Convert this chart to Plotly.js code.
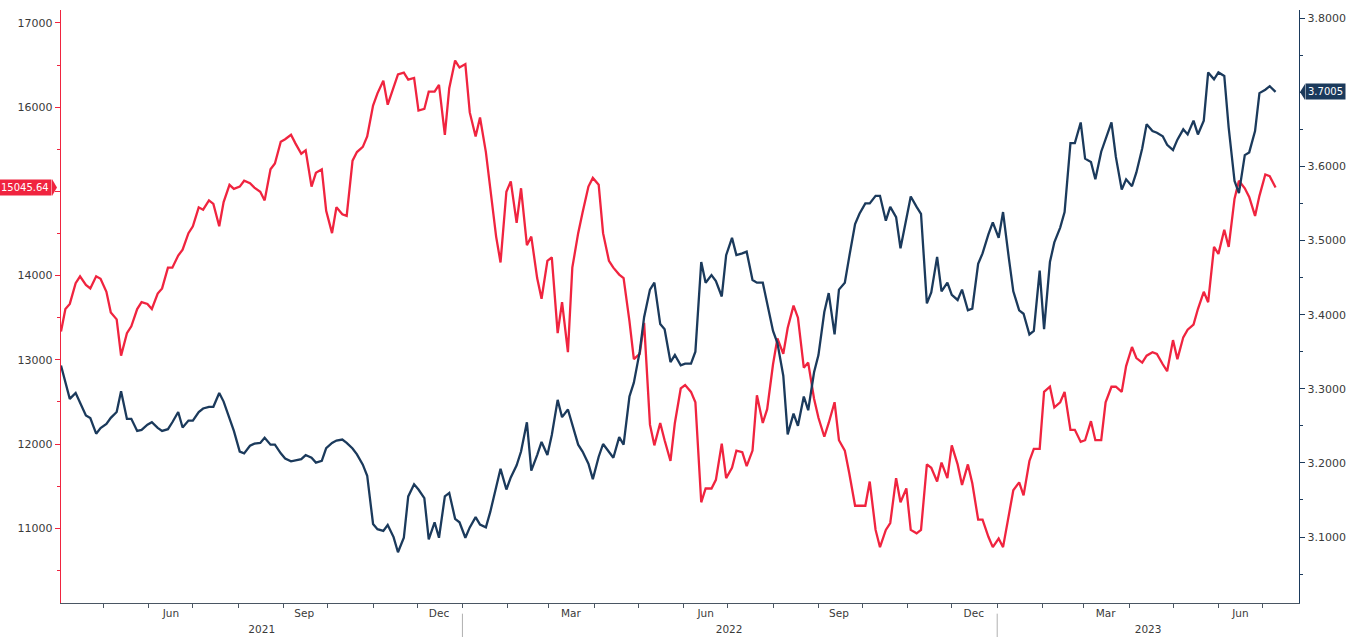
<!DOCTYPE html>
<html>
<head>
<meta charset="utf-8">
<script src="https://cdn.plot.ly/plotly-3.0.1.min.js"></script>
<style>html,body{margin:0;padding:0;background:#fff;}#chart{width:1363px;height:637px;}</style>
</head>
<body>
<div id="chart"></div>
<script>
const dates = [
'2021-04-02','2021-04-05','2021-04-08','2021-04-12','2021-04-15','2021-04-19','2021-04-22','2021-04-26','2021-04-29',
'2021-05-03','2021-05-06','2021-05-10','2021-05-13','2021-05-17','2021-05-20','2021-05-24','2021-05-27','2021-05-31',
'2021-06-03','2021-06-07','2021-06-10','2021-06-14','2021-06-17','2021-06-21','2021-06-24','2021-06-28',
'2021-07-01','2021-07-05','2021-07-08','2021-07-12','2021-07-15','2021-07-19','2021-07-22','2021-07-26','2021-07-29',
'2021-08-02','2021-08-05','2021-08-09','2021-08-12','2021-08-16','2021-08-19','2021-08-23','2021-08-26','2021-08-30',
'2021-09-02','2021-09-06','2021-09-09','2021-09-13','2021-09-16','2021-09-20','2021-09-23','2021-09-27','2021-09-30',
'2021-10-04','2021-10-07','2021-10-11','2021-10-14','2021-10-18','2021-10-21','2021-10-25','2021-10-28','2021-11-01',
'2021-11-04','2021-11-08','2021-11-11','2021-11-15','2021-11-18','2021-11-22','2021-11-25','2021-11-29',
'2021-12-02','2021-12-06','2021-12-09','2021-12-13','2021-12-16','2021-12-20','2021-12-23','2021-12-27','2021-12-30',
'2022-01-03','2022-01-06','2022-01-10','2022-01-13','2022-01-17','2022-01-20','2022-01-24','2022-01-27','2022-01-31',
'2022-02-03','2022-02-07','2022-02-10','2022-02-14','2022-02-17','2022-02-21','2022-02-24','2022-02-28',
'2022-03-03','2022-03-07','2022-03-10','2022-03-14','2022-03-17','2022-03-21','2022-03-24','2022-03-28','2022-03-31',
'2022-04-04','2022-04-07','2022-04-11','2022-04-14','2022-04-18','2022-04-21','2022-04-25','2022-04-28',
'2022-05-02','2022-05-05','2022-05-09','2022-05-12','2022-05-16','2022-05-19','2022-05-23','2022-05-26','2022-05-30',
'2022-06-02','2022-06-06','2022-06-09','2022-06-13','2022-06-16','2022-06-20','2022-06-23','2022-06-27','2022-06-30',
'2022-07-04','2022-07-07','2022-07-11','2022-07-14','2022-07-18','2022-07-21','2022-07-25','2022-07-28',
'2022-08-01','2022-08-04','2022-08-08','2022-08-11','2022-08-15','2022-08-18','2022-08-22','2022-08-25','2022-08-29',
'2022-09-01','2022-09-05','2022-09-08','2022-09-12','2022-09-15','2022-09-19','2022-09-22','2022-09-26','2022-09-29',
'2022-10-03','2022-10-06','2022-10-10','2022-10-13','2022-10-17','2022-10-20','2022-10-24','2022-10-27','2022-10-31',
'2022-11-03','2022-11-07','2022-11-10','2022-11-14','2022-11-17','2022-11-21','2022-11-24','2022-11-28',
'2022-12-01','2022-12-05','2022-12-08','2022-12-12','2022-12-15','2022-12-19','2022-12-22','2022-12-26','2022-12-29',
'2023-01-02','2023-01-05','2023-01-09','2023-01-12','2023-01-16','2023-01-19','2023-01-23','2023-01-26','2023-01-30',
'2023-02-02','2023-02-06','2023-02-09','2023-02-13','2023-02-16','2023-02-20','2023-02-23','2023-02-27',
'2023-03-02','2023-03-06','2023-03-09','2023-03-13','2023-03-16','2023-03-20','2023-03-23','2023-03-27','2023-03-30',
'2023-04-03','2023-04-06','2023-04-10','2023-04-13','2023-04-17','2023-04-20','2023-04-24','2023-04-27',
'2023-05-01','2023-05-04','2023-05-08','2023-05-11','2023-05-15','2023-05-18','2023-05-22','2023-05-25','2023-05-29',
'2023-06-01','2023-06-05','2023-06-08','2023-06-12','2023-06-15','2023-06-19','2023-06-22','2023-06-26','2023-06-29',
'2023-07-03','2023-07-06','2023-07-10'
];

const nasdaq100 = [
13336,13603,13664,13910,13992,13889,13848,13992,13963,13808,13562,13480,13049,13316,13398,13603,13685,13664,
13603,13787,13848,14094,14094,14238,14307,14504,14586,14811,14783,14893,14852,14586,14873,15078,15029,
15057,15127,15098,15045,14996,14893,15262,15332,15590,15619,15672,15570,15447,15488,15057,15221,15262,14770,
14504,14811,14729,14709,15365,15467,15529,15652,16020,
16164,16315,16029,16233,16389,16410,16328,16348,15959,15979,16184,16184,16266,15672,16225,16553,16471,
16512,15938,15652,15877,15467,15016,14463,14156,14996,15119,14627,15037,14361,14463,13971,13725,
14176,14217,13316,13684,13090,14094,14504,14750,15057,15160,15078,14504,14176,14094,14012,13971,13459,
13008,13070,13439,12230,11984,12250,12045,11799,12250,12660,
12701,12619,12496,11308,11472,11472,11574,12004,11595,11717,11922,11902,11738,11922,12578,12250,12414,
12947,13254,13070,13377,13643,13500,12906,12967,12537,12312,12086,12250,12496,12045,11922,11656,11267,11267,
11267,11554,10980,10775,10980,11062,11595,11308,11472,10980,10939,10980,11758,11717,11554,11779,11595,
11984,11758,11513,11758,11533,11103,11103,10898,10775,
10877,10775,11144,11451,11545,11390,11799,11943,11943,12619,12680,12435,12496,12619,12168,12168,12025,
12045,12271,12045,12045,12496,12680,12680,12619,12926,13152,13021,12967,13049,13090,13070,12947,12865,
13234,13008,13267,13357,13418,13603,13808,13684,14340,14258,14545,14340,14914,15127,15037,14934,14709,14947,
15201,15180,15045.64
];

const usdIls = [
3.3315,3.3106,3.2864,3.2943,3.2813,3.2641,3.2604,3.2394,3.2469,3.2525,3.2608,3.2687,3.2966,3.2594,3.2594,
3.2431,3.2445,3.2515,3.2548,3.2473,3.2431,3.2455,3.2548,3.2687,3.2478,3.2571,3.2571,3.2687,3.2734,3.2757,
3.2757,3.2943,3.2827,3.2594,3.2431,3.2153,3.2129,3.2232,3.2259,3.2269,3.2339,3.2246,3.2246,3.2129,3.2060,
3.2022,3.2036,3.2050,3.2106,3.2069,3.2004,3.2027,3.2199,3.2269,3.2301,3.2315,3.2269,3.2194,3.2115,3.1976,
3.1827,3.1176,
3.1106,3.1083,3.1162,3.0999,3.0795,3.0990,3.1548,3.1711,3.1641,3.1525,3.0967,3.1199,3.0990,3.1548,3.1595,
3.1246,3.1199,3.0990,3.1130,3.1269,3.1167,3.1130,3.1339,3.1688,3.1920,3.1641,3.1804,3.1967,3.2153,3.2548,
3.1897,3.2106,3.2283,3.2106,3.2376,3.2850,3.2617,3.2720,3.2525,3.2246,3.2153,3.1990,3.1781,3.2083,3.2255,
3.2153,3.2069,3.2348,3.2246,3.2896,3.3083,3.3501,3.3966,3.4338,3.4431,3.3873,3.3803,3.3361,3.3455,3.3315,
3.3338,3.3338,3.3501,3.4710,3.4431,3.4533,3.4454,3.4245,3.4803,3.5036,3.4803,3.4826,3.4850,3.4468,3.4431,
3.4431,3.4152,3.3780,3.3617,3.3176,3.2385,3.2664,3.2501,3.2896,3.2711,3.3222,3.3454,3.4036,3.4291,3.3733,
3.4338,3.4431,3.4780,3.5222,3.5361,3.5501,3.5501,3.5603,3.5603,3.5268,3.5454,3.5315,3.4896,3.5315,3.5594,
3.5454,3.5361,3.4152,3.4301,3.4780,3.4315,3.4431,3.4268,3.4198,3.4338,3.4059,3.4082,3.4687,3.4826,3.5082,
3.5245,
3.5035,3.5384,3.4756,3.4315,3.4059,3.4012,3.3733,3.3780,3.4594,3.3803,3.4710,3.4975,3.5175,3.5384,3.6314,
3.6314,3.6593,3.6105,3.6059,3.5826,3.6198,3.6361,3.6593,3.6128,3.5687,3.5826,3.5733,3.5919,3.6244,3.6570,
3.6477,3.6454,3.6407,3.6291,3.6221,3.6361,3.6500,3.6431,3.6617,3.6431,3.6617,3.7268,3.7175,3.7268,3.7221,
3.6524,3.5803,3.5640,3.6152,3.6189,3.6477,3.6989,3.7035,3.7082,3.7005
];

const leftTickVals = [11000, 12000, 13000, 14000, 15000, 16000, 17000];
const leftTickText = ['11000', '12000', '13000', '14000', '', '16000', '17000'];
const rightTickVals = [3.1, 3.2, 3.3, 3.4, 3.5, 3.6, 3.7, 3.8];
const rightTickText = ['3.1000', '3.2000', '3.3000', '3.4000', '3.5000', '3.6000', '', '3.8000'];
const monthLabels = ['Jun','Sep','Dec','Mar','Jun','Sep','Dec','Mar','Jun'];
const monthLabelDates = ['2021-06-16','2021-09-15','2021-12-16','2022-03-16','2022-06-16','2022-09-15','2022-12-16','2023-03-16','2023-06-16'];
const yearLabels = ['2021','2022','2023'];
const yearLabelDates = ['2021-08-17','2022-07-02','2023-04-14'];
const yearBreaks = ['2022-01-01','2023-01-01'];
const xRange = ['2021-04-02','2023-07-26'];

const RED = '#f0243f';
const BLUE = '#1b3a5c';
const TXT = '#3a3a3a';
const FONT = 'DejaVu Sans, Verdana, sans-serif';

const lastNdx = nasdaq100[nasdaq100.length - 1];
const lastIls = usdIls[usdIls.length - 1];

const traces = [
  {x: dates, y: nasdaq100, type: 'scatter', mode: 'lines', line: {color: RED, width: 2.3}, xaxis: 'x', yaxis: 'y', hoverinfo: 'x+y', showlegend: false},
  {x: dates, y: usdIls, type: 'scatter', mode: 'lines', line: {color: BLUE, width: 2.3}, xaxis: 'x', yaxis: 'y2', hoverinfo: 'x+y', showlegend: false},
  {x: [dates[0]], y: [nasdaq100[0]], type: 'scatter', mode: 'markers', marker: {opacity: 0}, xaxis: 'x2', yaxis: 'y', hoverinfo: 'skip', showlegend: false},
  {x: [dates[0]], y: [nasdaq100[0]], type: 'scatter', mode: 'markers', marker: {opacity: 0}, xaxis: 'x3', yaxis: 'y', hoverinfo: 'skip', showlegend: false}
];

const pxX = 1 / 1238;
const yHalfL = 8.5 * (17154 - 10112) / 593;
const yHalfR = 8 * (3.811 - 3.011) / 593;

const shapes = yearBreaks.map(d => ({
  type: 'line', xref: 'x', yref: 'paper', x0: d, x1: d, y0: -0.018, y1: -0.06,
  line: {color: '#b0b0b0', width: 1}
}));
shapes.push({
  type: 'path', xref: 'paper', yref: 'y', layer: 'above',
  path: `M ${-9*pxX},${lastNdx + yHalfL} L ${-4*pxX},${lastNdx} L ${-9*pxX},${lastNdx - yHalfL} Z`,
  fillcolor: RED, line: {width: 0}
});
shapes.push({
  type: 'path', xref: 'paper', yref: 'y2', layer: 'above',
  path: `M ${1 + 6*pxX},${lastIls + yHalfR} L ${1 + 1*pxX},${lastIls} L ${1 + 6*pxX},${lastIls - yHalfR} Z`,
  fillcolor: BLUE, line: {width: 0}
});

const layout = {
  width: 1363, height: 637,
  margin: {l: 61, r: 64, t: 10, b: 34, pad: 0},
  paper_bgcolor: '#ffffff', plot_bgcolor: '#ffffff',
  font: {family: FONT, size: 11, color: TXT},
  showlegend: false,
  xaxis: {
    type: 'date', range: xRange, dtick: 'M1', tick0: '2021-01-01',
    ticks: 'outside', ticklen: 4, tickcolor: '#4a5663', tickwidth: 1,
    showticklabels: false, showline: true, linecolor: '#4a5663', linewidth: 1,
    showgrid: false, zeroline: false, fixedrange: true
  },
  xaxis2: {
    type: 'date', overlaying: 'x', anchor: 'y', side: 'bottom', range: xRange,
    tickmode: 'array', tickvals: monthLabelDates, ticktext: monthLabels,
    ticks: '', showline: false, showgrid: false, zeroline: false,
    tickfont: {family: FONT, size: 10.5, color: TXT}, ticklabelstandoff: 2
  },
  xaxis3: {
    type: 'date', overlaying: 'x', anchor: 'y', side: 'bottom', range: xRange,
    tickmode: 'array', tickvals: yearLabelDates, ticktext: yearLabels,
    ticks: '', showline: false, showgrid: false, zeroline: false,
    tickfont: {family: FONT, size: 10.5, color: TXT}, ticklabelstandoff: 18
  },
  yaxis: {
    range: [10112, 17154], tickmode: 'array', tickvals: leftTickVals, ticktext: leftTickText,
    ticks: 'outside', ticklen: 5, tickcolor: RED, tickwidth: 1,
    minor: {tickmode: 'linear', dtick: 500, tick0: 0, ticks: 'outside', ticklen: 3, tickcolor: RED},
    showline: true, linecolor: RED, linewidth: 1.2,
    showgrid: false, zeroline: false,
    tickfont: {family: FONT, size: 11, color: TXT}
  },
  yaxis2: {
    overlaying: 'y', side: 'right', anchor: 'x',
    range: [3.011, 3.811], tickmode: 'array', tickvals: rightTickVals, ticktext: rightTickText,
    ticks: 'outside', ticklen: 5, tickcolor: BLUE, tickwidth: 1,
    minor: {tickmode: 'linear', dtick: 0.05, tick0: 3, ticks: 'outside', ticklen: 3, tickcolor: BLUE},
    showline: true, linecolor: BLUE, linewidth: 1.2,
    showgrid: false, zeroline: false,
    tickfont: {family: FONT, size: 11, color: TXT}
  },
  shapes: shapes,
  annotations: [
    {xref: 'paper', yref: 'y', x: 0, y: lastNdx, xanchor: 'right', yanchor: 'middle', xshift: -9,
     text: lastNdx.toFixed(2), showarrow: false, bgcolor: RED, borderpad: 2,
     font: {family: FONT, size: 10, color: '#ffffff'}},
    {xref: 'paper', yref: 'y2', x: 1, y: lastIls, xanchor: 'left', yanchor: 'middle', xshift: 6,
     text: lastIls.toFixed(4), showarrow: false, bgcolor: BLUE, borderpad: 2,
     font: {family: FONT, size: 10, color: '#ffffff'}}
  ]
};

Plotly.newPlot('chart', traces, layout, {displayModeBar: false, staticPlot: true});
</script>
</body>
</html>
